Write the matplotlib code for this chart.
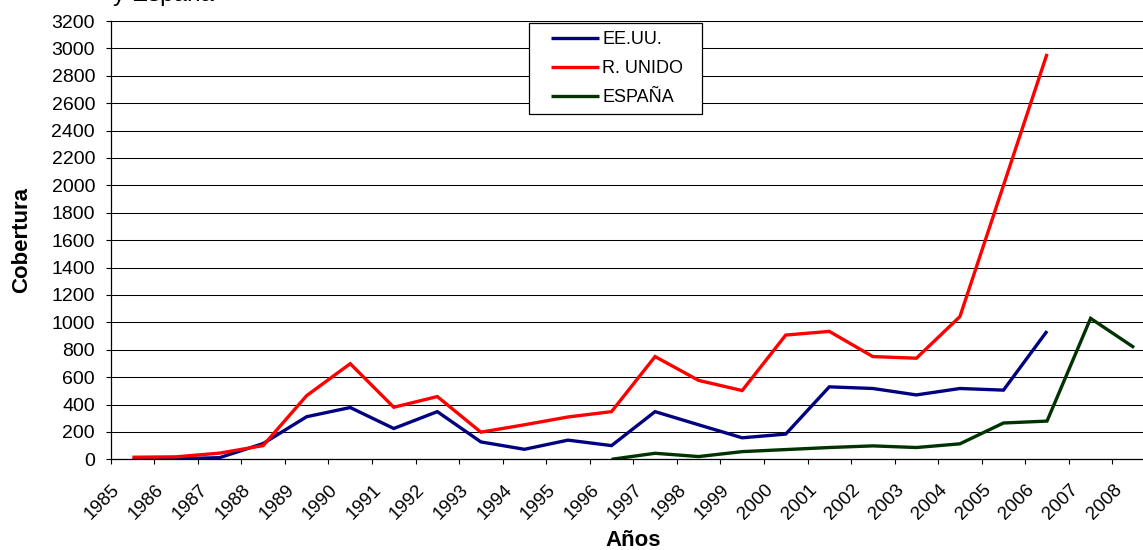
import numpy as np
import matplotlib
matplotlib.use("Agg")
import matplotlib.pyplot as plt
import matplotlib.transforms as mtransforms
from matplotlib.legend_handler import HandlerLine2D

plt.rcParams['font.family'] = ['Liberation Sans', 'DejaVu Sans']

# Años de la serie
years = [str(y) for y in range(1985, 2009)]

nan = np.nan
# Cobertura por país (sin dato = nan)
eeuu = [2, 4, 12, 115, 311, 378, 225, 348, 127, 73, 140, 100,
        348, 252, 157, 184, 529, 517, 470, 517, 505, 936, nan, nan]
runido = [15, 18, 45, 100, 465, 698, 380, 458, 198, 252, 309, 348,
          750, 576, 502, 907, 934, 750, 738, 1042, 2000, 2960, nan, nan]
espana = [nan, nan, nan, nan, nan, nan, nan, nan, nan, nan, nan, 0,
          44, 20, 56, 71, 86, 98, 86, 113, 265, 279, 1029, 816]

series_labels = ['EE.UU.', 'R. UNIDO', 'ESPAÑA']
series_colors = ['#000080', '#FF0000', '#003300']

yticks = list(range(0, 3201, 200))

W, H = 1143, 550
fig = plt.figure(figsize=(W / 100, H / 100), dpi=100)

left_px, right_px = 110.7, 1155.9
top_px, bottom_px = 21.0, 459.3
ax = fig.add_axes([left_px / W, 1 - bottom_px / H,
                   (right_px - left_px) / W, (bottom_px - top_px) / H])

x = np.arange(len(years))
for vals, lab, col in zip([eeuu, runido, espana], series_labels, series_colors):
    ax.plot(x, vals, color=col, lw=2.4, label=lab, solid_joinstyle='miter',
            solid_capstyle='butt')

ax.set_xlim(-0.5, len(years) - 0.5)
ax.set_ylim(0, 3200)
ax.set_yticks(yticks)
ax.set_yticklabels([str(v) for v in yticks], fontsize=14)

# category labels at centres, tick marks at category boundaries
ax.set_xticks(x)
ax.set_xticklabels(years, rotation=45, ha='right', va='top', fontsize=13.5)
ax.set_xticks(np.arange(-0.5, len(years) + 0.5, 1), minor=True)
ax.tick_params(axis='x', which='major', length=0, pad=16)
ax.tick_params(axis='x', which='minor', length=3.8, width=0.8, direction='out', color='black')
ax.tick_params(axis='y', length=3.8, width=0.8, direction='out', pad=7.5, color='black')

shift = mtransforms.ScaledTranslation(-9 / 100, 0, fig.dpi_scale_trans)
for lbl in ax.get_xticklabels():
    lbl.set_transform(lbl.get_transform() + shift)

ax.grid(axis='y', color='black', lw=0.75)
ax.set_axisbelow(True)
ax.spines['right'].set_visible(False)
for s in ['left', 'bottom']:
    ax.spines[s].set_linewidth(0.9)
ax.spines['top'].set_linewidth(0.75)

fig.text(22 / W, 1 - 240 / H, 'Cobertura', rotation=90, ha='center', va='center',
         fontsize=16, fontweight='bold')
fig.text(633 / W, 1 - 540 / H, 'Años', ha='center', va='center',
         fontsize=16, fontweight='bold')
fig.text(113 / W, 1 - 0.5 / H, 'y España', ha='left', va='baseline', fontsize=17.5)

fs = 13
handler = HandlerLine2D(xpad=0.75)
leg = ax.legend(loc='upper left', bbox_to_anchor=(529 / W, 1 - 23 / H - 0.01, 173 / W, 0.01),
                bbox_transform=fig.transFigure, mode='expand', borderaxespad=0,
                fontsize=fs, frameon=True, fancybox=False, shadow=False,
                borderpad=0.45, labelspacing=0.67, handlelength=3.4,
                handletextpad=0.22, handler_map={plt.Line2D: handler})
leg.get_frame().set_edgecolor('black')
leg.get_frame().set_linewidth(0.9)
leg.get_frame().set_alpha(1)

fig.savefig('out.png', dpi=100)
